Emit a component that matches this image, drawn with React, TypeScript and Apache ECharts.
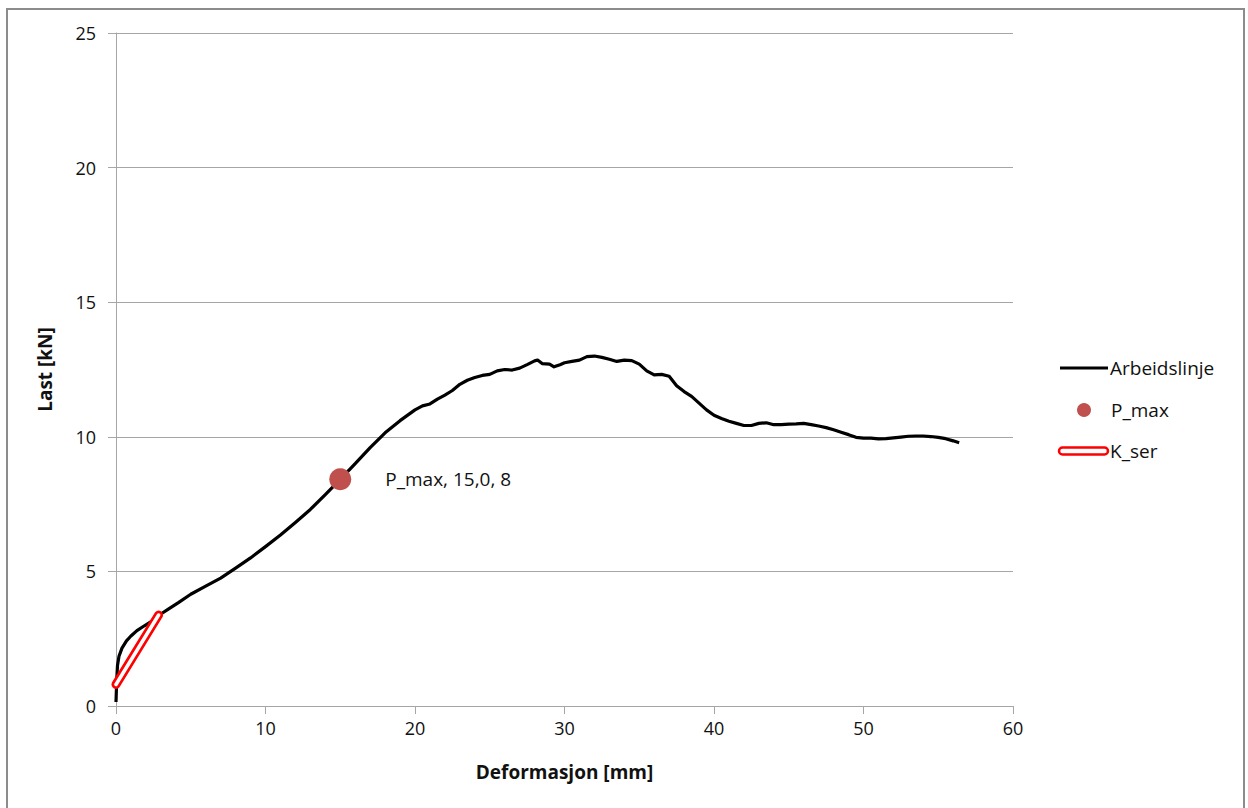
import React, { useEffect, useRef } from "react";
import * as echarts from "echarts";

const xTicks = [0, 10, 20, 30, 40, 50, 60];
const yTicks = [0, 5, 10, 15, 20, 25];

const arbeidX = [
  0, 0.05, 0.1, 0.2, 0.4, 0.7, 1.0, 1.4, 1.9, 2.4, 2.9, 3.5, 4.2, 5.0, 6.0, 7.0, 8.0, 9.0, 10.0, 11.0,
  12.0, 13.0, 14.0, 15.0, 16.0, 17.0, 18.0, 19.0, 20.0, 20.5, 21.0, 21.5, 22.0, 22.5, 23.0, 23.5, 24.0,
  24.5, 25.0, 25.5, 26.0, 26.5, 27.0, 27.5, 28.0, 28.2, 28.5, 29.0, 29.3, 29.7, 30.0, 30.5, 31.0, 31.5,
  32.0, 32.5, 33.0, 33.5, 34.0, 34.5, 35.0, 35.5, 36.0, 36.5, 37.0, 37.5, 38.0, 38.5, 39.0, 39.5, 40.0,
  40.5, 41.0, 41.5, 42.0, 42.5, 43.0, 43.5, 44.0, 44.5, 45.0, 45.5, 46.0, 46.5, 47.0, 47.5, 48.0, 48.5,
  49.0, 49.5, 50.0, 50.5, 51.0, 51.5, 52.0, 52.5, 53.0, 53.5, 54.0, 54.5, 55.0, 55.5, 56.0, 56.4,
];
const arbeidY = [
  0.15, 1.0, 1.5, 1.85, 2.15, 2.42, 2.6, 2.8, 2.98, 3.15, 3.38, 3.6, 3.85, 4.15, 4.45, 4.75, 5.12, 5.5,
  5.92, 6.35, 6.82, 7.3, 7.85, 8.42, 9.0, 9.6, 10.15, 10.6, 11.0, 11.15, 11.22, 11.4, 11.55, 11.72, 11.95,
  12.1, 12.2, 12.28, 12.32, 12.45, 12.5, 12.48, 12.55, 12.68, 12.82, 12.85, 12.72, 12.7, 12.6, 12.68,
  12.75, 12.8, 12.85, 12.98, 13.0, 12.95, 12.88, 12.8, 12.85, 12.83, 12.7, 12.45, 12.3, 12.32, 12.25,
  11.9, 11.68, 11.5, 11.25, 11.0, 10.8, 10.68, 10.58, 10.5, 10.42, 10.42, 10.5, 10.52, 10.45, 10.45,
  10.47, 10.48, 10.5, 10.45, 10.4, 10.34, 10.26, 10.17, 10.08, 9.98, 9.95, 9.95, 9.92, 9.93, 9.96, 9.99,
  10.02, 10.03, 10.03, 10.01, 9.98, 9.93, 9.85, 9.78,
];
const pMaxX = [15.0];
const pMaxY = [8.42];
const kSerX = [0, 2.85];
const kSerY = [0.8, 3.38];

const seriesNames = ["Arbeidslinje", "P_max", "K_ser"];

const FONT = "'Open Sans', Lato, sans-serif";
const TEXT = "#111111";
const GRID = "#a6a6a6";
const FS = 18;
const FS2 = 19;

export default function App() {
  const ref = useRef<HTMLDivElement>(null);
  useEffect(() => {
    if (!ref.current) return;
    const chart = echarts.init(ref.current, null, { renderer: "svg" });
    const pair = (xs: number[], ys: number[]) => xs.map((x, i) => [x, ys[i]]);
    chart.setOption({
      animation: false,
      backgroundColor: "#ffffff",
      textStyle: { fontFamily: FONT },
      grid: { left: 116, right: 235, top: 33, bottom: 102 },
      xAxis: {
        type: "value",
        min: 0,
        max: 60,
        interval: 10,
        name: "Deformasjon [mm]",
        nameLocation: "middle",
        nameGap: 56,
        nameTextStyle: { fontSize: 19, fontWeight: "bold", color: TEXT, fontFamily: FONT },
        axisLine: { show: true, lineStyle: { color: GRID, width: 1 } },
        axisTick: { show: true, length: 8, lineStyle: { color: GRID } },
        splitLine: { show: false },
        axisLabel: {
          margin: 13,
          fontSize: FS,
          color: TEXT,
          fontFamily: FONT,
          formatter: (v: number) => (xTicks.includes(v) ? String(v) : ""),
        },
      },
      yAxis: {
        type: "value",
        min: 0,
        max: 25,
        interval: 5,
        name: "Last [kN]",
        nameLocation: "middle",
        nameGap: 62,
        nameRotate: 90,
        nameTextStyle: { fontSize: 19, fontWeight: "bold", color: TEXT, fontFamily: FONT },
        axisLine: { show: true, lineStyle: { color: GRID, width: 1 } },
        axisTick: { show: true, length: 8, lineStyle: { color: GRID } },
        splitLine: { show: true, lineStyle: { color: GRID, width: 1 } },
        axisLabel: {
          margin: 20,
          fontSize: FS,
          color: TEXT,
          fontFamily: FONT,
          formatter: (v: number) => (yTicks.includes(v) ? String(v) : ""),
        },
      },
      series: [
        {
          name: seriesNames[0],
          type: "line",
          data: pair(arbeidX, arbeidY),
          showSymbol: false,
          symbol: "none",
          lineStyle: { color: "#000000", width: 3.2, join: "round" },
          z: 3,
        },
        {
          name: seriesNames[2],
          type: "line",
          data: pair(kSerX, kSerY),
          showSymbol: false,
          symbol: "none",
          lineStyle: { color: "#ff0000", width: 9, cap: "round" },
          z: 4,
        },
        {
          name: seriesNames[2] + "_inner",
          type: "line",
          data: pair(kSerX, kSerY),
          showSymbol: false,
          symbol: "none",
          lineStyle: { color: "#ffffff", width: 3.5, cap: "round" },
          z: 5,
        },
        {
          name: seriesNames[1],
          type: "scatter",
          data: pair(pMaxX, pMaxY),
          symbol: "circle",
          symbolSize: 22,
          itemStyle: { color: "#c0504d", opacity: 1 },
          label: {
            show: true,
            position: "right",
            distance: 34,
            formatter: "P_max, 15,0, 8",
            fontSize: FS2,
            color: TEXT,
            fontFamily: FONT,
          },
          z: 6,
        },
      ],
      graphic: [
        {
          type: "rect",
          shape: { x: 7, y: 9, width: 1237, height: 820 },
          style: { fill: "none", stroke: "#8c8c8c", lineWidth: 2 },
          silent: true,
        },
        {
          type: "line",
          shape: { x1: 1060, y1: 368, x2: 1108, y2: 368 },
          style: { stroke: "#000000", lineWidth: 3 },
        },
        {
          type: "text",
          x: 1110,
          y: 368,
          style: { text: seriesNames[0], fontSize: FS2, fill: TEXT, fontFamily: FONT, verticalAlign: "middle" },
        },
        {
          type: "circle",
          shape: { cx: 1084, cy: 410, r: 7 },
          style: { fill: "#c0504d" },
        },
        {
          type: "text",
          x: 1111,
          y: 410,
          style: { text: seriesNames[1], fontSize: FS2, fill: TEXT, fontFamily: FONT, verticalAlign: "middle" },
        },
        {
          type: "rect",
          shape: { x: 1059, y: 447.5, width: 49, height: 7, r: 3.5 },
          style: { fill: "#ffffff", stroke: "#ff0000", lineWidth: 2.5 },
        },
        {
          type: "text",
          x: 1110,
          y: 451,
          style: { text: seriesNames[2], fontSize: FS2, fill: TEXT, fontFamily: FONT, verticalAlign: "middle" },
        },
      ],
    });
    return () => chart.dispose();
  }, []);
  return (
    <div
      ref={ref}
      style={{ position: "fixed", left: 0, top: 0, width: 1248, height: 808, background: "#fff" }}
    />
  );
}
